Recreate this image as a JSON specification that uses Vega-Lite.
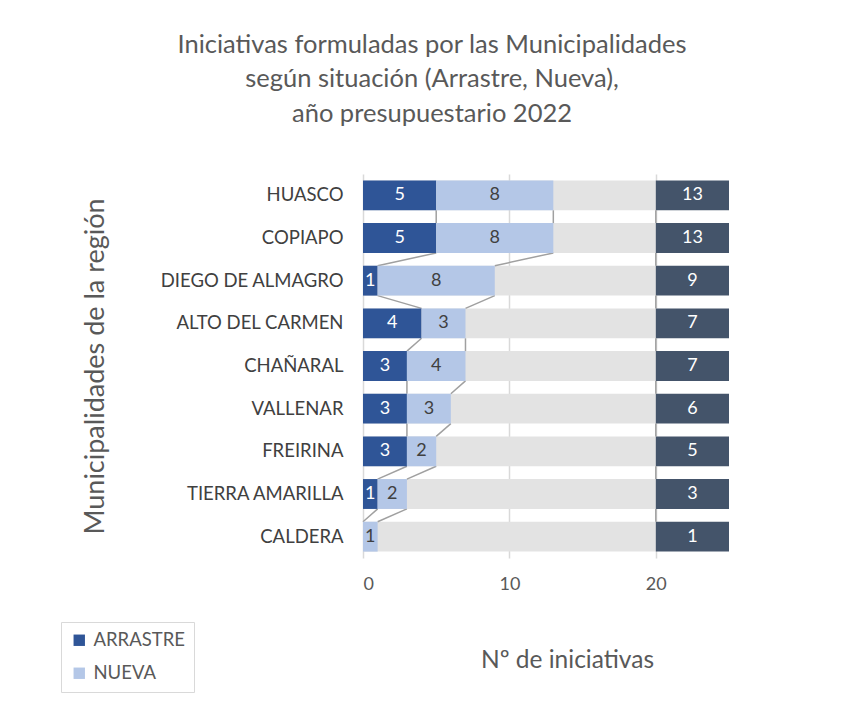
{
  "$schema": "https://vega.github.io/schema/vega-lite/v6.json",
  "width": 366,
  "height": 384,
  "padding": {"left": 60, "top": 32, "right": 5, "bottom": 5},
  "background": "white",
  "config": {"view": {"stroke": null}, "font": "Lato"},
  "title": {
    "text": ["Iniciativas formuladas por las Municipalidades", "según situación (Arrastre, Nueva),", "año presupuestario 2022"],
    "font": "Lato", "fontSize": 25.5, "fontWeight": "normal", "color": "#595959",
    "lineHeight": 34.5, "anchor": "middle", "frame": "group", "dx": -114, "offset": 47
  },
  "data": {
    "values": [
      {"mun": "HUASCO", "ARRASTRE": 5, "NUEVA": 8, "total": 13},
      {"mun": "COPIAPO", "ARRASTRE": 5, "NUEVA": 8, "total": 13},
      {"mun": "DIEGO DE ALMAGRO", "ARRASTRE": 1, "NUEVA": 8, "total": 9},
      {"mun": "ALTO DEL CARMEN", "ARRASTRE": 4, "NUEVA": 3, "total": 7},
      {"mun": "CHAÑARAL", "ARRASTRE": 3, "NUEVA": 4, "total": 7},
      {"mun": "VALLENAR", "ARRASTRE": 3, "NUEVA": 3, "total": 6},
      {"mun": "FREIRINA", "ARRASTRE": 3, "NUEVA": 2, "total": 5},
      {"mun": "TIERRA AMARILLA", "ARRASTRE": 1, "NUEVA": 2, "total": 3},
      {"mun": "CALDERA", "ARRASTRE": 0, "NUEVA": 1, "total": 1}
    ]
  },
  "encoding": {
    "y": {
      "field": "mun", "type": "nominal",
      "sort": ["HUASCO", "COPIAPO", "DIEGO DE ALMAGRO", "ALTO DEL CARMEN", "CHAÑARAL", "VALLENAR", "FREIRINA", "TIERRA AMARILLA", "CALDERA"],
      "scale": {"paddingInner": 0.3, "paddingOuter": 0.15},
      "axis": {
        "domain": false, "ticks": false, "labelFontSize": 18.5, "labelColor": "#404040", "labelPadding": 20, "labelLimit": 400,
        "title": "Municipalidades de la región", "titleFontSize": 27, "titleFontWeight": "normal",
        "titleColor": "#595959", "titlePadding": 54
      }
    }
  },
  "layer": [
    {
      "mark": {"type": "bar", "color": "#E3E3E3"},
      "encoding": {
        "x": {"datum": 0, "type": "quantitative", "scale": {"domain": [0, 25], "nice": false},
          "axis": {
            "values": [0, 10, 20], "grid": true, "gridColor": "#D9D9D9", "gridWidth": 1.5,
            "domain": false, "ticks": false, "labelFontSize": 18, "labelColor": "#595959", "labelPadding": 17,
            "title": "Nº de iniciativas", "titleFontSize": 24.5, "titleFontWeight": "normal", "titleColor": "#595959",
            "titlePadding": 55, "titleX": 204
          }},
        "x2": {"datum": 20}
      }
    },
    {
      "mark": {"type": "bar", "color": "#44546A"},
      "encoding": {"x": {"datum": 20, "type": "quantitative"}, "x2": {"datum": 25}}
    },
    {
      "mark": {"type": "text", "color": "white", "fontSize": 18, "font": "Lato"},
      "encoding": {"x": {"datum": 22.5, "type": "quantitative"}, "text": {"field": "total"}}
    },
    {
      "transform": [
        {"window": [
          {"op": "lead", "field": "mun", "as": "next_mun"},
          {"op": "lead", "field": "ARRASTRE", "as": "next_arr"},
          {"op": "lead", "field": "total", "as": "next_total"}
        ]},
        {"filter": "datum.next_mun != null"}
      ],
      "layer": [
        {
          "mark": {"type": "rule", "color": "#A0A0A0", "strokeWidth": 1.5},
          "encoding": {
            "y": {"field": "mun", "type": "nominal", "sort": ["HUASCO", "COPIAPO", "DIEGO DE ALMAGRO", "ALTO DEL CARMEN", "CHAÑARAL", "VALLENAR", "FREIRINA", "TIERRA AMARILLA", "CALDERA"], "bandPosition": 1},
            "y2": {"field": "next_mun", "bandPosition": 0},
            "x": {"field": "ARRASTRE", "type": "quantitative"},
            "x2": {"field": "next_arr"}
          }
        },
        {
          "mark": {"type": "rule", "color": "#A0A0A0", "strokeWidth": 1.5},
          "encoding": {
            "y": {"field": "mun", "type": "nominal", "sort": ["HUASCO", "COPIAPO", "DIEGO DE ALMAGRO", "ALTO DEL CARMEN", "CHAÑARAL", "VALLENAR", "FREIRINA", "TIERRA AMARILLA", "CALDERA"], "bandPosition": 1},
            "y2": {"field": "next_mun", "bandPosition": 0},
            "x": {"field": "total", "type": "quantitative"},
            "x2": {"field": "next_total"}
          }
        },
        {
          "mark": {"type": "rule", "color": "#A0A0A0", "strokeWidth": 1.5},
          "encoding": {
            "y": {"field": "mun", "type": "nominal", "sort": ["HUASCO", "COPIAPO", "DIEGO DE ALMAGRO", "ALTO DEL CARMEN", "CHAÑARAL", "VALLENAR", "FREIRINA", "TIERRA AMARILLA", "CALDERA"], "bandPosition": 1},
            "y2": {"field": "next_mun", "bandPosition": 0},
            "x": {"datum": 20, "type": "quantitative"}
          }
        }
      ]
    },
    {
      "transform": [
        {"fold": ["ARRASTRE", "NUEVA"], "as": ["situacion", "n"]}
      ],
      "layer": [
        {
          "mark": {"type": "bar"},
          "encoding": {
            "x": {"field": "n", "type": "quantitative", "stack": "zero"},
            "order": {"field": "situacion", "sort": "ascending"},
            "color": {
              "field": "situacion", "type": "nominal",
              "scale": {"domain": ["ARRASTRE", "NUEVA"], "range": ["#2F5597", "#B4C7E7"]},
              "legend": {
                "title": null, "orient": "none", "legendX": -302, "legendY": 448, "direction": "vertical",
                "symbolType": "square", "symbolSize": 130, "symbolStrokeWidth": 0, "labelFontSize": 18.5, "labelColor": "#595959",
                "strokeColor": "#D9D9D9", "padding": 9, "rowPadding": 14, "labelFont": "Lato", "labelOffset": 5
              }
            }
          }
        },
        {
          "transform": [{"filter": "datum.n > 0"}],
          "mark": {"type": "text", "fontSize": 18, "font": "Lato"},
          "encoding": {
            "x": {"field": "n", "type": "quantitative", "stack": "zero", "bandPosition": 0.5},
            "detail": {"field": "situacion"},
            "order": {"field": "situacion", "sort": "ascending"},
            "text": {"field": "n"},
            "color": {"condition": {"test": "datum.situacion === 'ARRASTRE'", "value": "white"}, "value": "#404040"}
          }
        }
      ]
    }
  ]
}
